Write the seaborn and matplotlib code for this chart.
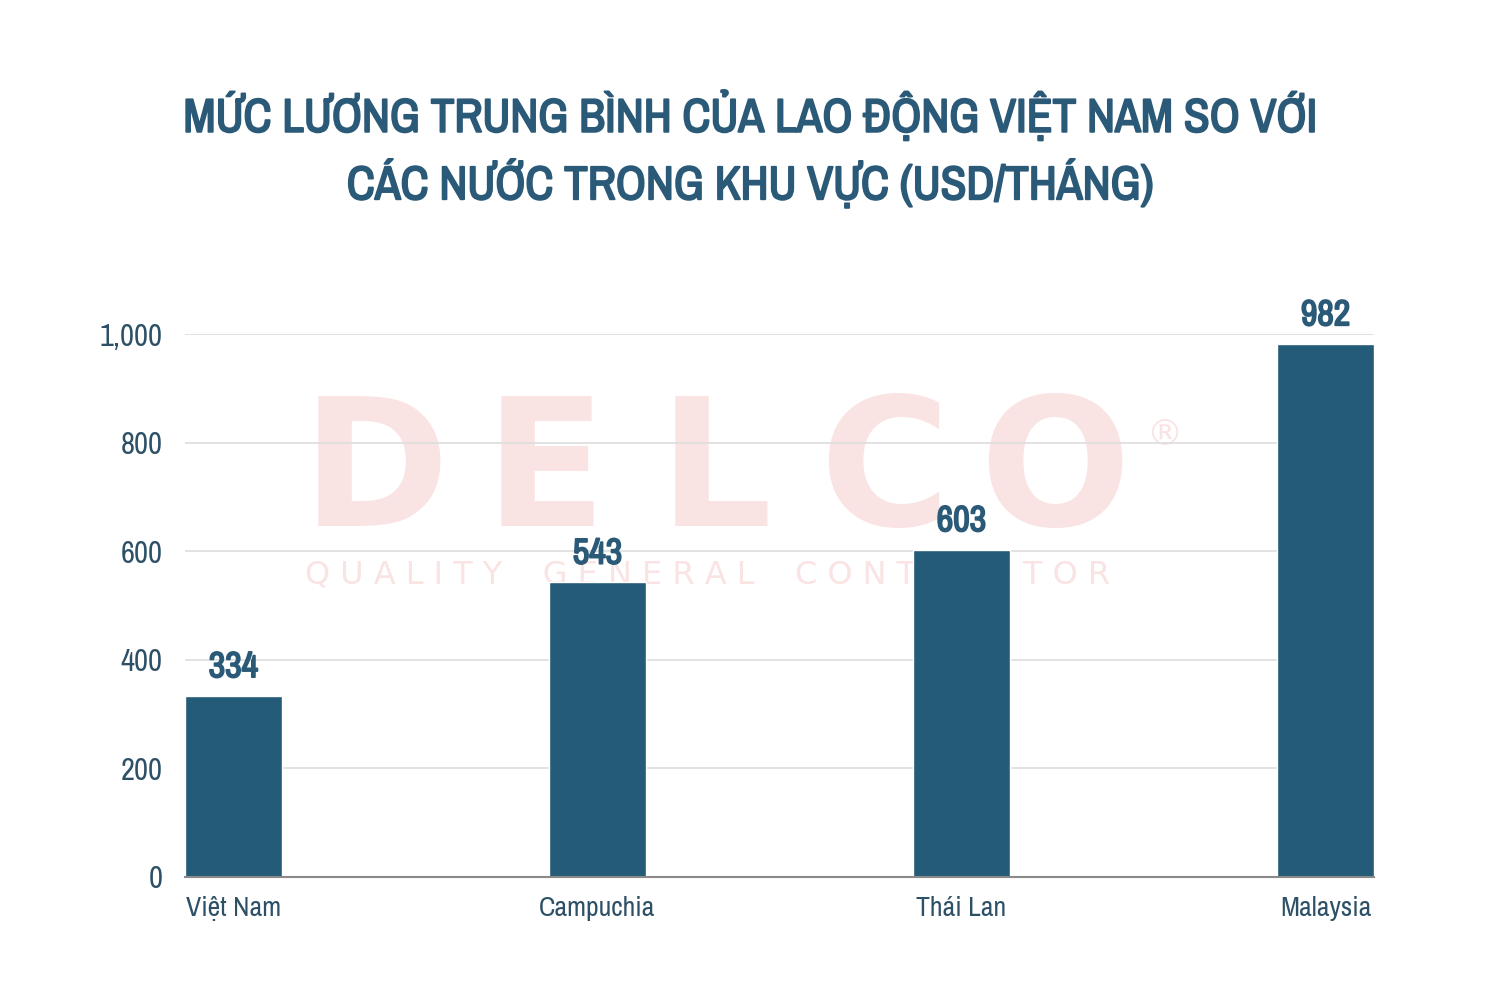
import matplotlib
matplotlib.use("Agg")
import matplotlib.pyplot as plt
import matplotlib.patheffects as pe
import seaborn as sns
import pandas as pd
from matplotlib import font_manager
from matplotlib.ticker import FuncFormatter

countries = ["Việt Nam", "Campuchia", "Thái Lan", "Malaysia"]
salaries = [334, 543, 603, 982]
y_ticks = [0, 200, 400, 600, 800, 1000]

title = "MỨC LƯƠNG TRUNG BÌNH CỦA LAO ĐỘNG VIỆT NAM SO VỚI\nCÁC NƯỚC TRONG KHU VỰC (USD/THÁNG)"

df = pd.DataFrame({"country": countries, "salary": salaries})

sns.set_theme(style="white")
names = sorted({f.name for f in font_manager.fontManager.ttflist})
narrow = [n for n in names if "Condensed" in n or "Narrow" in n]
pick = narrow[:1] + [n for n in ["Roboto", "DejaVu Sans"] if n in names]
plt.rcParams["font.family"] = pick + ["DejaVu Sans"]

bar_color = "#245b78"
text_color = "#2b5a78"
tick_color = "#2d5066"
wm_color = "#fae3e3"

# fake a heavier weight on the narrow font with a thin stroke
def heavy(w):
    return [pe.withStroke(linewidth=w, foreground=text_color)]

fig = plt.figure(figsize=(15, 10), dpi=100)
fig.patch.set_facecolor("white")

# faint logo watermark, behind the axes
for i, ch in enumerate("DELCO"):
    fig.text(0.25 + i * 0.1133, 0.524, ch, ha="center", va="center", fontsize=128,
             fontweight="bold", color=wm_color, family="DejaVu Sans", zorder=-1)
fig.text(0.777, 0.565, "®", ha="center", va="center", fontsize=26,
         color=wm_color, family="DejaVu Sans", zorder=-1)
fig.text(0.472, 0.425, "Q U A L I T Y    G E N E R A L    C O N T R A C T O R",
         ha="center", va="center", fontsize=23, color=wm_color,
         family="DejaVu Sans", zorder=-1)

ax = fig.add_axes([0.1233, 0.123, 0.7927, 0.543])
ax.set_facecolor("none")
sns.barplot(data=df, x="country", y="salary", color=bar_color, width=0.266,
            saturation=1, ax=ax, zorder=3)

ax.set_xlim(-0.133, 3.133)
ax.set_ylim(0, 1000)
ax.set_yticks(y_ticks)
ax.yaxis.set_major_formatter(FuncFormatter(lambda v, p: f"{int(v):,}"))
ax.grid(axis="y", color="#dddddd", linewidth=1.2, zorder=0)
ax.set_axisbelow(True)
for s in ["top", "right", "left"]:
    ax.spines[s].set_visible(False)
ax.spines["bottom"].set_color("#8a8a8a")
ax.spines["bottom"].set_linewidth(1.5)
ax.spines["bottom"].set_zorder(4)
ax.set_xlabel("")
ax.set_ylabel("")
ax.tick_params(axis="y", length=0, pad=16, labelsize=22, labelcolor=tick_color)
ax.tick_params(axis="x", length=0, pad=14, labelsize=20, labelcolor=tick_color)

for c in ax.containers:
    labels = ax.bar_label(c, fmt="%d", padding=9, fontsize=26, fontweight="bold",
                          color=text_color, clip_on=False)
    for t in labels:
        t.set_path_effects(heavy(1.3))

fig.text(0.5, 0.852, title, ha="center", va="center", fontsize=34,
         fontweight="bold", color=text_color, linespacing=1.45,
         path_effects=heavy(1.4))

fig.savefig("out.png", dpi=100, facecolor="white")
